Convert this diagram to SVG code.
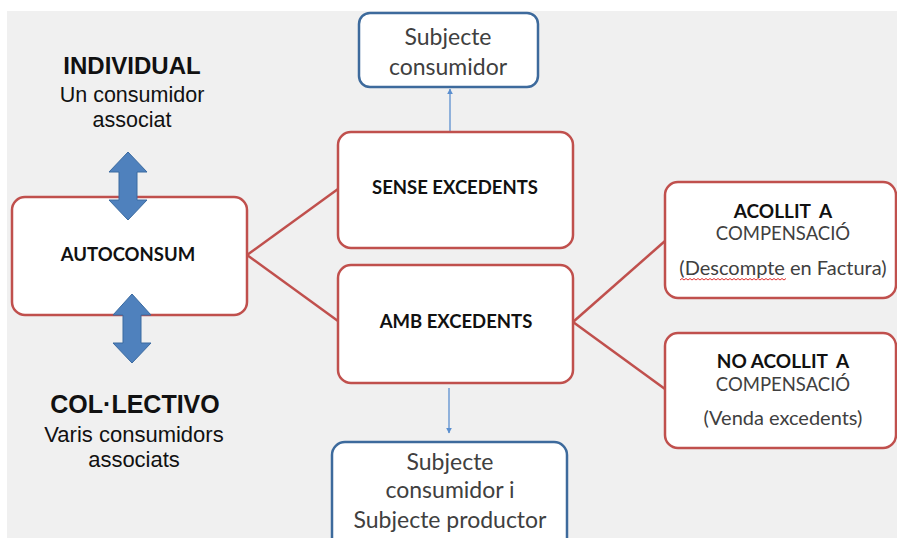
<svg xmlns="http://www.w3.org/2000/svg" width="897" height="538" viewBox="0 0 897 538">
  <style>
    .box { fill: #ffffff; stroke: #c0504d; stroke-width: 2.5; }
    .bbox { fill: #ffffff; stroke: #3d6a9c; stroke-width: 2.5; }
    .link { fill: none; stroke: #c0504d; stroke-width: 2.5; }
    .thin { fill: none; stroke: #5b8fcf; stroke-width: 1.3; }
    .dbl { fill: #4f81bd; stroke: #3a6aa0; stroke-width: 1; }
    .bold { font-family: Lato, "Liberation Sans", sans-serif; font-weight: bold; fill: #111111; text-anchor: middle; }
    .reg { font-family: Lato, "Liberation Sans", sans-serif; fill: #404040; text-anchor: middle; }
    .side { font-family: "Liberation Sans", Arial, sans-serif; fill: #111111; text-anchor: middle; }
  </style>
  <defs>
    <marker id="tip" viewBox="0 0 10 10" refX="9" refY="5" markerWidth="6" markerHeight="6" orient="auto" markerUnits="userSpaceOnUse">
      <path d="M0,0 L10,5 L0,10 z" fill="#5b8fcf"/>
    </marker>
  </defs>

  <!-- page background -->
  <rect x="0" y="0" width="897" height="538" fill="#ffffff"/>
  <rect x="7" y="11" width="890" height="527" fill="#f0f0f0"/>

  <!-- connectors -->
  <g id="connectors">
    <line class="link" x1="247" y1="255" x2="338" y2="189"/>
    <line class="link" x1="247" y1="255" x2="338" y2="321"/>
    <line class="link" x1="573" y1="322" x2="665" y2="241"/>
    <line class="link" x1="573" y1="322" x2="665" y2="389"/>
    <line class="thin" x1="450" y1="131" x2="450" y2="89" marker-end="url(#tip)"/>
    <line class="thin" x1="449" y1="388" x2="449" y2="433" marker-end="url(#tip)"/>
  </g>

  <!-- side labels -->
  <g id="individual">
    <text class="side" x="132" y="74" font-size="24" font-weight="bold">INDIVIDUAL</text>
    <text class="side" x="132" y="102" font-size="21.5">Un consumidor</text>
    <text class="side" x="132" y="127" font-size="21.5">associat</text>
  </g>
  <g id="collectiu">
    <text class="side" x="135" y="413" font-size="25" font-weight="bold">COL·LECTIVO</text>
    <text class="side" x="134" y="442" font-size="22">Varis consumidors</text>
    <text class="side" x="134" y="467" font-size="22">associats</text>
  </g>

  <!-- nodes -->
  <g id="autoconsum">
    <rect class="box" x="12" y="197" width="235" height="118" rx="13"/>
    <text class="bold" x="128" y="261" font-size="18.5">AUTOCONSUM</text>
  </g>
  <g id="sense-excedents">
    <rect class="box" x="338" y="132" width="235" height="116" rx="13"/>
    <text class="bold" x="455" y="194" font-size="18.5">SENSE EXCEDENTS</text>
  </g>
  <g id="amb-excedents">
    <rect class="box" x="338" y="265" width="235" height="118" rx="13"/>
    <text class="bold" x="456" y="328" font-size="18.5">AMB EXCEDENTS</text>
  </g>
  <g id="subjecte-consumidor">
    <rect class="bbox" x="359" y="13" width="179" height="74" rx="11"/>
    <text class="reg" x="448" y="45" font-size="23">Subjecte</text>
    <text class="reg" x="448" y="75" font-size="23">consumidor</text>
  </g>
  <g id="subjecte-productor">
    <rect class="bbox" x="332" y="442" width="235" height="120" rx="13"/>
    <text class="reg" x="450" y="470" font-size="23">Subjecte</text>
    <text class="reg" x="450" y="498" font-size="23">consumidor i</text>
    <text class="reg" x="450" y="528" font-size="23">Subjecte productor</text>
  </g>
  <g id="acollit">
    <rect class="box" x="665" y="182" width="231" height="116" rx="13"/>
    <text class="bold" x="783" y="218" font-size="19" xml:space="preserve">ACOLLIT  A</text>
    <text class="reg" x="783" y="240" font-size="18.5" fill="#111111">COMPENSACIÓ</text>
    <text class="reg" x="783" y="275" font-size="20" fill="#111111">(Descompte en Factura)</text>
    <path d="M680,280 l2,-1.5 l2,1.5 l2,-1.5 l2,1.5 l2,-1.5 l2,1.5 l2,-1.5 l2,1.5 l2,-1.5 l2,1.5 l2,-1.5 l2,1.5 l2,-1.5 l2,1.5 l2,-1.5 l2,1.5 l2,-1.5 l2,1.5 l2,-1.5 l2,1.5 l2,-1.5 l2,1.5 l2,-1.5 l2,1.5 l2,-1.5 l2,1.5 l2,-1.5 l2,1.5 l2,-1.5 l2,1.5 l2,-1.5 l2,1.5 l2,-1.5 l2,1.5 l2,-1.5 l2,1.5 l2,-1.5 l2,1.5 l2,-1.5 l2,1.5 l2,-1.5 l2,1.5 l2,-1.5 l2,1.5 l2,-1.5 l2,1.5 l2,-1.5 l2,1.5 l2,-1.5 l2,1.5 l2,-1.5 l2,1.5 l2,-1.5" fill="none" stroke="#e03030" stroke-width="1"/>
  </g>
  <g id="no-acollit">
    <rect class="box" x="665" y="333" width="231" height="115" rx="13"/>
    <text class="bold" x="783" y="368" font-size="19" xml:space="preserve">NO ACOLLIT  A</text>
    <text class="reg" x="783" y="391" font-size="18.5" fill="#111111">COMPENSACIÓ</text>
    <text class="reg" x="783" y="425" font-size="20" fill="#111111">(Venda excedents)</text>
  </g>

  <!-- double-headed block arrows, drawn over the AUTOCONSUM box -->
  <g id="block-arrows">
    <polygon id="arrow-individual" class="dbl" points="128,152 147,172 137,172 137,200 147,200 128,220 109,200 119,200 119,172 109,172"/>
    <polygon id="arrow-collectiu" class="dbl" points="132,294 151,315 141,315 141,343 151,343 132,363 113,343 123,343 123,315 113,315"/>
  </g>
</svg>
